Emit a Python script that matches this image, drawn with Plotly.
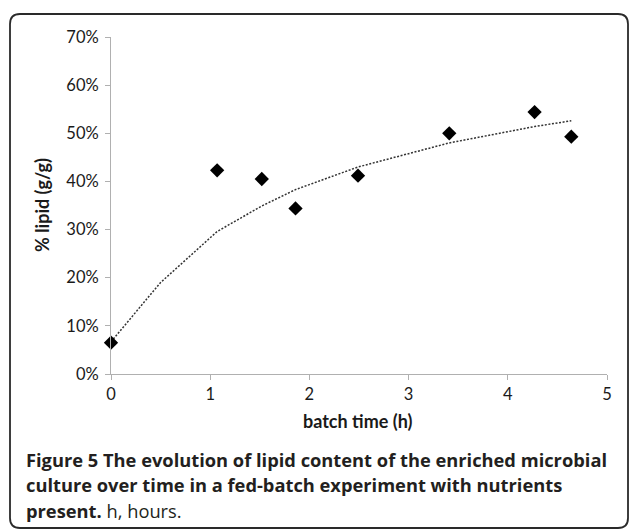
import plotly.graph_objects as go

# Data
batch_time_h = [0, 1.07, 1.52, 1.86, 2.49, 3.41, 4.27, 4.64]
lipid_frac = [0.065, 0.423, 0.405, 0.344, 0.412, 0.500, 0.544, 0.493]

trend_time_h = [0, 0.5, 1.07, 1.52, 1.86, 2.49, 3.41, 4.27, 4.64]
trend_lipid = [0.067, 0.19, 0.296, 0.349, 0.383, 0.43, 0.48, 0.514, 0.526]

x_ticks = [0, 1, 2, 3, 4, 5]
y_ticks = [0, 0.1, 0.2, 0.3, 0.4, 0.5, 0.6, 0.7]
y_tick_text = ["0%", "10%", "20%", "30%", "40%", "50%", "60%", "70%"]

caption_lines = [
    "<b>Figure 5 The evolution of lipid content of the enriched microbial</b>",
    "<b>culture over time in a fed-batch experiment with nutrients</b>",
    "<b>present.</b> h, hours.",
]

W, H = 630, 530
ML, MR, MT, MB = 111, 23, 37, 156
PW = W - ML - MR
PH = H - MT - MB


def px(x):
    return (x - ML) / PW


def py(y):
    return (H - MB - y) / PH


fig = go.Figure()
fig.add_trace(go.Scatter(
    x=trend_time_h, y=trend_lipid, mode="lines",
    line=dict(color="#333333", width=1.5, dash="2px,1.6px"),
    hoverinfo="skip", showlegend=False, cliponaxis=False,
))
fig.add_trace(go.Scatter(
    x=batch_time_h, y=lipid_frac, mode="markers",
    marker=dict(symbol="diamond", size=11, color="black"),
    showlegend=False, cliponaxis=False,
))

axis_common = dict(
    showgrid=False, zeroline=False, showline=True, linecolor="#b0b0b0",
    linewidth=1, ticks="outside", ticklen=5, tickcolor="#b0b0b0",
    tickfont=dict(family="Lato", size=16.5, color="#1a1a1a"),
)

fig.update_xaxes(range=[0, 5], tickvals=x_ticks, ticklabelstandoff=0,
                 **axis_common)
fig.update_yaxes(range=[0, 0.7], tickvals=y_ticks, ticktext=y_tick_text,
                 ticklabelstandoff=3, **axis_common)

# Axis titles
fig.add_annotation(text="<b>batch time (h)</b>", xref="paper", yref="paper",
                   x=px(357), y=py(421), xanchor="center", yanchor="middle",
                   showarrow=False,
                   font=dict(family="Lato", size=18, color="#1a1a1a"))
fig.add_annotation(text="<b>% lipid (g/g)</b>", xref="paper", yref="paper",
                   x=px(42), y=py(205), xanchor="center", yanchor="middle",
                   textangle=-90, showarrow=False,
                   font=dict(family="Lato", size=18, color="#1a1a1a"))

# Caption
line_y = [459, 484.5, 510]
for txt, yy in zip(caption_lines, line_y):
    fig.add_annotation(text=txt, xref="paper", yref="paper",
                       x=px(24), y=py(yy), xanchor="left", yanchor="middle",
                       showarrow=False,
                       font=dict(family="Open Sans", size=18.3, color="#231f20"))

# Rounded frame
x0, y0, x1, y1, r = 10, 14, 628, 528, 10
path = (f"M {px(x0 + r)},{py(y0)} L {px(x1 - r)},{py(y0)} "
        f"Q {px(x1)},{py(y0)} {px(x1)},{py(y0 + r)} "
        f"L {px(x1)},{py(y1 - r)} Q {px(x1)},{py(y1)} {px(x1 - r)},{py(y1)} "
        f"L {px(x0 + r)},{py(y1)} Q {px(x0)},{py(y1)} {px(x0)},{py(y1 - r)} "
        f"L {px(x0)},{py(y0 + r)} Q {px(x0)},{py(y0)} {px(x0 + r)},{py(y0)} Z")
fig.add_shape(type="path", path=path, xref="paper", yref="paper",
              line=dict(color="#2a2a2a", width=1.8), layer="below")

fig.update_layout(
    width=W, height=H, margin=dict(l=ML, r=MR, t=MT, b=MB),
    plot_bgcolor="white", paper_bgcolor="white",
)

fig.write_html("out.html")
